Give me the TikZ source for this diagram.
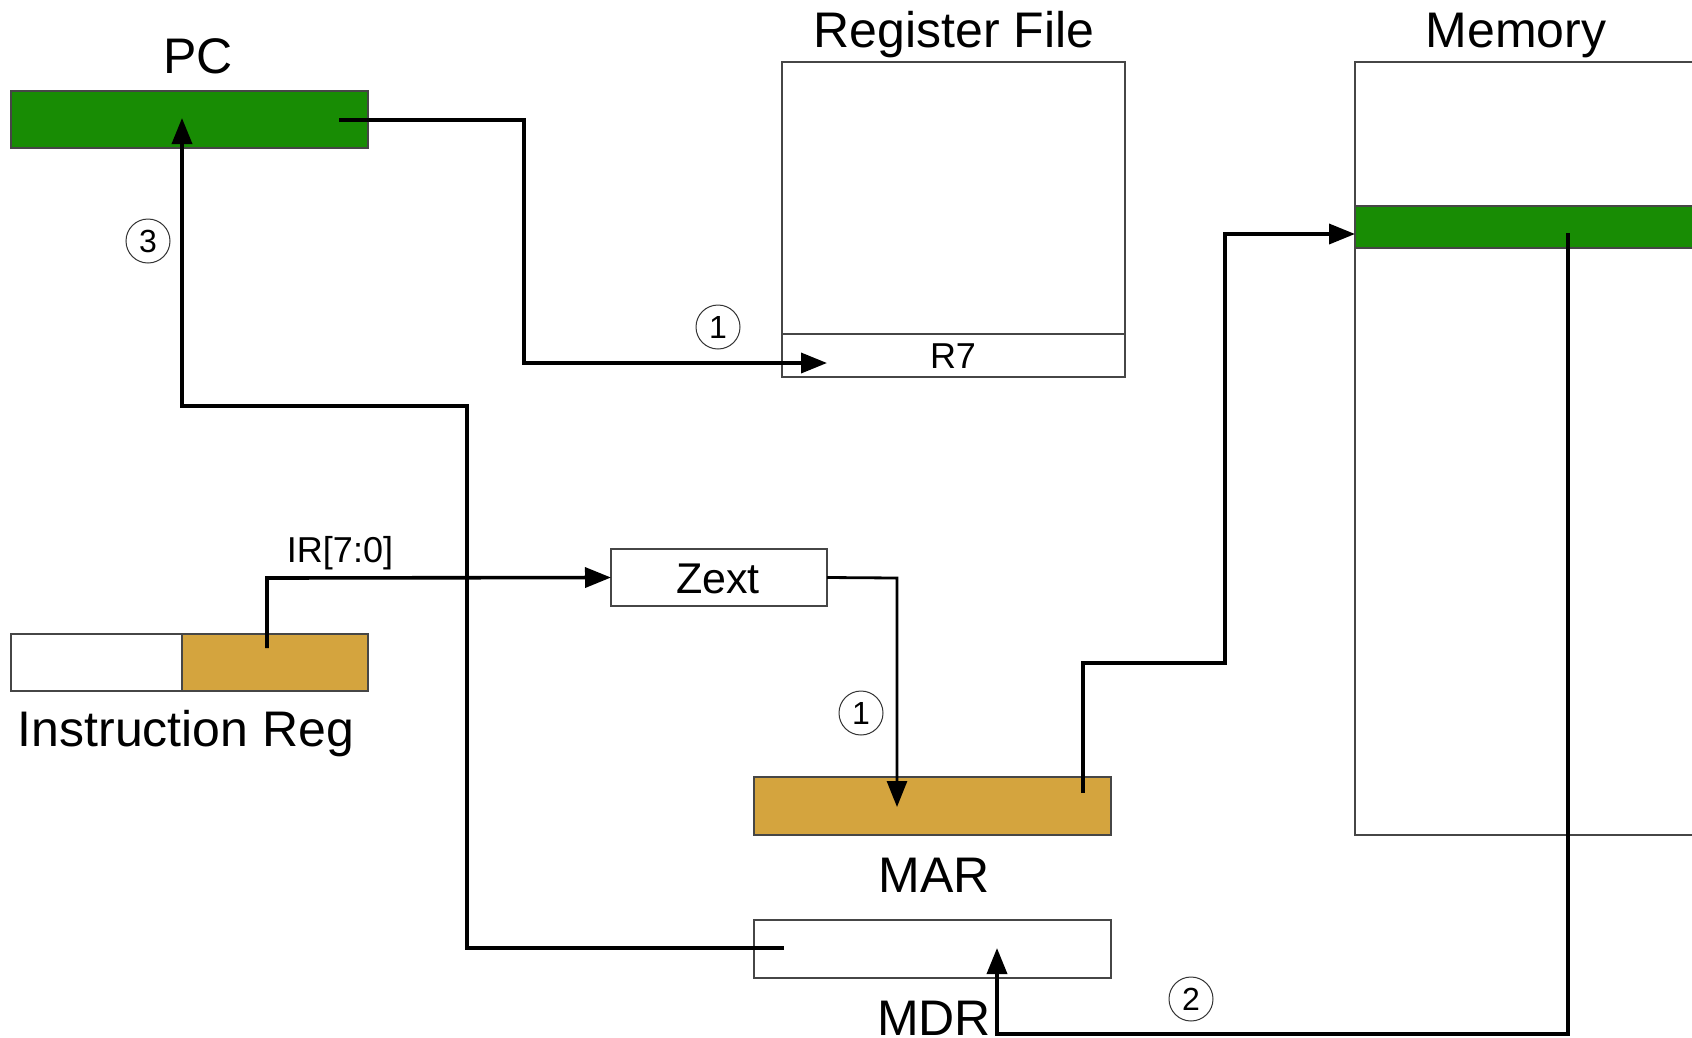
\documentclass[tikz,border=0pt]{standalone}
\usepackage{fontspec}
\setmainfont{Liberation Sans}
\usetikzlibrary{arrows.meta}
\definecolor{regG}{RGB}{24,140,4}
\definecolor{regY}{RGB}{212,164,62}
\definecolor{edge}{RGB}{70,70,70}
\begin{document}
\begin{tikzpicture}[x=1pt,y=-1pt,
  reg/.style={draw=edge,line width=1.2pt,inner sep=0pt,outer sep=0pt,anchor=north west},
  big/.style={font=\fontsize{50}{60}\selectfont,inner sep=0pt,anchor=base},
  mid/.style={font=\fontsize{43}{52}\selectfont,inner sep=0pt,anchor=base},
  small/.style={font=\fontsize{36}{44}\selectfont,inner sep=0pt,anchor=base},
  num/.style={draw=black!80,circle,line width=1pt,minimum size=44pt,inner sep=0pt,font=\fontsize{32}{38}\selectfont},
  wire/.style={line width=3.6pt,-{Triangle[length=26pt,width=20pt]}},
  ]
\useasboundingbox (0,0) rectangle (1692,1037);
\fill[white] (0,0) rectangle (1692,1037);

% registers and boxes
\node[reg,fill=regG,minimum width=357pt,minimum height=57pt] (pc) at (11,91) {};
\node[reg,minimum width=343pt,minimum height=272pt] (rf) at (782,62) {};
\node[reg,minimum width=343pt,minimum height=43pt] (r7) at (782,334) {};
\node[inner sep=0pt,outer sep=0pt,anchor=north west,minimum width=337pt,minimum height=773pt] (mem) at (1355,62) {};
\draw[edge,line width=1.2pt] (mem.north east) -- (mem.north west) -- (mem.south west) -- (mem.south east);
\node[inner sep=0pt,outer sep=0pt,anchor=north west,fill=regG,minimum width=337pt,minimum height=42pt] (memrow) at (1355,206) {};
\draw[edge,line width=1.2pt] (memrow.north east) -- (memrow.north west) -- (memrow.south west) -- (memrow.south east);
\node[reg,minimum width=216pt,minimum height=57pt] (zext) at (611,549) {};
\node[reg,minimum width=171pt,minimum height=57pt] (irhi) at (11,634) {};
\node[reg,fill=regY,minimum width=186pt,minimum height=57pt] (irlo) at (182,634) {};
\node[reg,fill=regY,minimum width=357pt,minimum height=58pt] (mar) at (754,777) {};
\node[reg,minimum width=357pt,minimum height=58pt] (mdr) at (754,920) {};

% labels
\node[big] (pcl) at (198,73) {PC};
\node[big] (rfl) at (954,47) {Register File};
\node[big] (meml) at (1516,47) {Memory};
\node[small] (r7l) at (953,368) {R7};
\node[mid] (zextl) at (718,593) {Zext};
\node[small] (irl) at (340,562) {IR[7:0]};
\node[big] (irname) at (186,746) {Instruction Reg};
\node[big] (marl) at (934,892) {MAR};
\node[big] (mdrl) at (934,1035) {MDR};

% step numbers
\node[num] (n3) at (148,241) {3};
\node[num] (n1a) at (718,327) {1};
\node[num] (n1b) at (861,713) {1};
\node[num] (n2) at (1191,999) {2};

% connection points
\coordinate (pcout) at (339,120);
\coordinate (r7in) at (827,363);
\coordinate (mdrout) at (784,948);
\coordinate (pcin) at (182,118);
\coordinate (irout) at (267,648);
\coordinate (marin) at (897,807);
\coordinate (marout) at (1083,793);
\coordinate (memin) at (1355,234);
\coordinate (memout) at (1568,233);
\coordinate (mdrin) at (997,948);

% connectors
\draw[wire] (pcout) -- (524,120) -- (524,363) -- (r7in);
\draw[wire] (mdrout) -- (467,948) -- (467,406) -- (182,406) -- (pcin);
\draw[wire] (irout) -- (267,578) -- (zext.west);
\draw[wire,line width=2.8pt] (zext.east) -- (897,578) -- (marin);
\draw[wire] (marout) -- (1083,663) -- (1225,663) -- (1225,234) -- (memin);
\draw[wire] (memout) -- (1568,1034) -- (997,1034) -- (mdrin);
\end{tikzpicture}
\end{document}
